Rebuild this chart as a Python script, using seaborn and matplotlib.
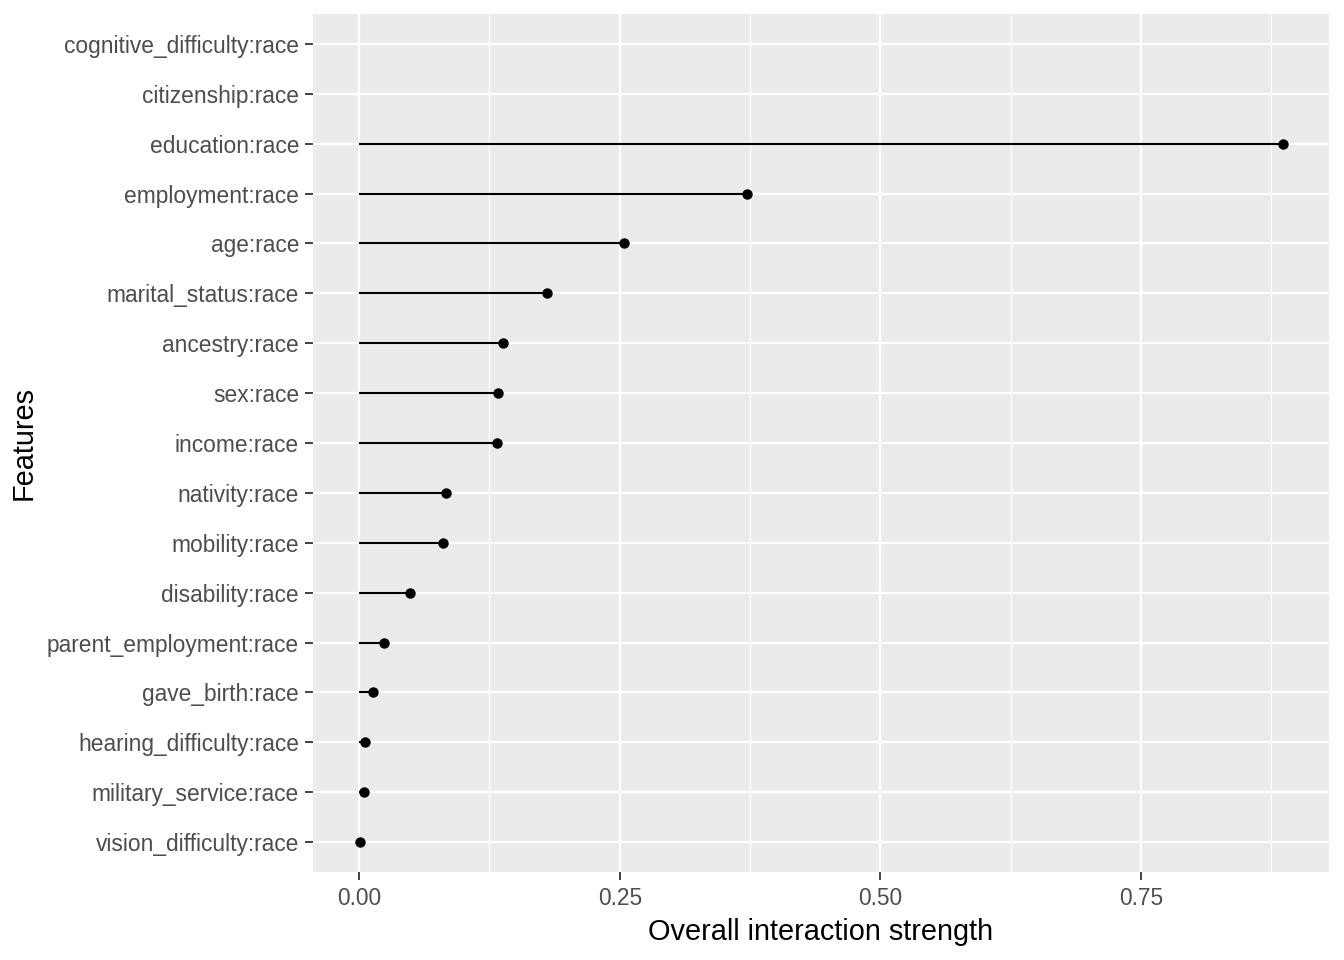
import numpy as np
import pandas as pd
import seaborn as sns
import matplotlib.pyplot as plt

# ggplot2-like theme
sns.set_theme(style="darkgrid", rc={
    "axes.facecolor": "#EBEBEB",
    "grid.color": "white",
    "axes.edgecolor": "none",
})
plt.rcParams["font.family"] = ["Liberation Sans", "DejaVu Sans"]

# Data (top to bottom), NaN = no value shown
features = [
    "cognitive_difficulty:race", "citizenship:race", "education:race",
    "employment:race", "age:race", "marital_status:race", "ancestry:race",
    "sex:race", "income:race", "nativity:race", "mobility:race",
    "disability:race", "parent_employment:race", "gave_birth:race",
    "hearing_difficulty:race", "military_service:race", "vision_difficulty:race",
]
strength = [
    np.nan, np.nan, 0.886, 0.372, 0.254, 0.180, 0.138, 0.133, 0.132,
    0.083, 0.080, 0.049, 0.024, 0.0135, 0.006, 0.005, 0.001,
]
x_ticks = [0.00, 0.25, 0.50, 0.75]

df = pd.DataFrame({"feature": features, "strength": strength})

fig = plt.figure(figsize=(13.44, 9.6), dpi=100)
ax = fig.add_axes([313 / 1344, 1 - 872 / 960, (1329 - 313) / 1344, (872 - 14) / 960])

# points
sns.stripplot(data=df, x="strength", y="feature", order=features, jitter=False,
              color="black", size=7.5, linewidth=0, ax=ax, zorder=3)

# stems from 0 to the value on the categorical positions
pos = np.arange(len(features))
ax.hlines(y=pos, xmin=0, xmax=df["strength"], color="black", linewidth=1.5, zorder=2)

# axis ranges with ggplot-like expansion
vmax = np.nanmax(strength)
ax.set_xlim(-0.05 * vmax, 1.05 * vmax)
ax.set_ylim(len(features) - 0.4, -0.6)

ax.set_xticks(x_ticks)
ax.set_xticklabels([f"{t:.2f}" for t in x_ticks])
ax.set_xticks([0.125, 0.375, 0.625, 0.875], minor=True)
ax.grid(which="major", color="white", linewidth=1.6)
ax.grid(which="minor", axis="x", color="white", linewidth=0.8)
ax.set_axisbelow(True)

ax.tick_params(axis="both", which="major", length=5.5, width=1.3, color="#333333",
               labelsize=16.4, labelcolor="#4D4D4D")
ax.tick_params(axis="x", which="major", bottom=True, pad=5)
ax.tick_params(axis="y", which="major", left=True, pad=4.5)
ax.tick_params(axis="both", which="minor", length=0)

ax.set_xlabel("Overall interaction strength", fontsize=20.8, color="black", labelpad=6)
ax.set_ylabel("Features", fontsize=20.8, color="black", labelpad=7)

plt.savefig("out.png", dpi=100)
